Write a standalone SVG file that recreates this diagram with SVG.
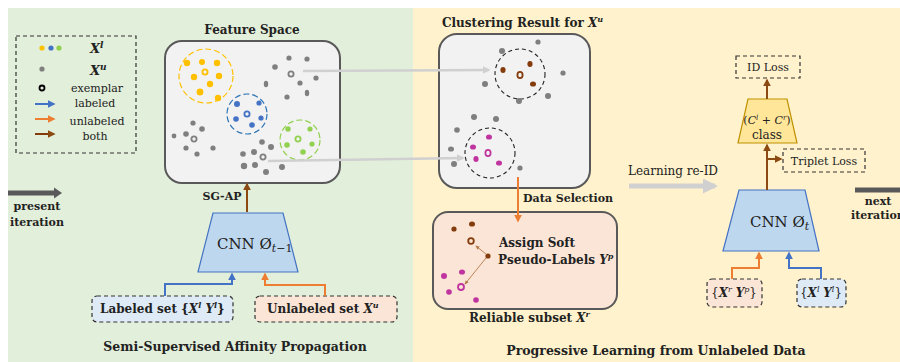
<svg xmlns="http://www.w3.org/2000/svg" width="900" height="362" viewBox="0 0 900 362">
<defs>
<style>
.t{font-family:"DejaVu Serif","Liberation Serif",serif;fill:#222}
.b{font-weight:bold}
.m{font-style:italic;font-weight:bold}
.g{fill:#7f7f7f}
.y{fill:#FFC000}
.bl{fill:#4472C4}
.gr{fill:#92D050}
.br{fill:#843C0C}
.mg{fill:#C0349F}
.box{fill:#F2F2F2;stroke:#595959;stroke-width:2}
.dash{stroke:#333;stroke-width:1.2;stroke-dasharray:4 3}
</style>
<marker id="aBr" viewBox="0 0 10 10" refX="8" refY="5" markerWidth="4" markerHeight="4" orient="auto"><path d="M0,0L10,5L0,10z" fill="#8B4A12"/></marker>
<marker id="aBl" viewBox="0 0 10 10" refX="8" refY="5" markerWidth="4" markerHeight="4" orient="auto"><path d="M0,0L10,5L0,10z" fill="#4472C4"/></marker>
<marker id="aOr" viewBox="0 0 10 10" refX="8" refY="5" markerWidth="4" markerHeight="4" orient="auto"><path d="M0,0L10,5L0,10z" fill="#ED7D31"/></marker>
<marker id="aGy" viewBox="0 0 10 10" refX="8" refY="5" markerWidth="3" markerHeight="3" orient="auto"><path d="M0,0L10,5L0,10z" fill="#D0D0D0"/></marker>
<marker id="aTh" viewBox="0 0 10 10" refX="8" refY="5" markerWidth="5" markerHeight="5" orient="auto"><path d="M0,1L10,5L0,9z" fill="#B27A48"/></marker>
</defs>

<!-- panels -->
<rect x="8" y="8" width="405" height="354" fill="#E2EFDA"/>
<rect x="413" y="8" width="487" height="354" fill="#FFF2CC"/>

<!-- legend -->
<g id="legend">
<rect x="16" y="36" width="120" height="117" fill="none" class="dash"/>
<circle cx="42" cy="48" r="2.6" class="y"/><circle cx="51" cy="48" r="2.6" class="bl"/><circle cx="59" cy="48" r="2.6" class="gr"/>
<text x="90" y="53" class="t m" font-size="13">X<tspan font-size="9" dy="-5">l</tspan></text>
<circle cx="42" cy="69" r="2.6" class="g"/>
<text x="90" y="75" class="t m" font-size="13">X<tspan font-size="9" dy="-5">u</tspan></text>
<circle cx="42" cy="88" r="2.5" fill="none" stroke="#000" stroke-width="1.8"/>
<text x="97" y="92" class="t" font-size="11" text-anchor="middle">exemplar</text>
<line x1="35" y1="104" x2="54" y2="104" stroke="#4472C4" stroke-width="2" marker-end="url(#aBl)"/>
<text x="95" y="107" class="t" font-size="11" text-anchor="middle">labeled</text>
<line x1="35" y1="119" x2="54" y2="119" stroke="#ED7D31" stroke-width="2" marker-end="url(#aOr)"/>
<text x="97" y="125" class="t" font-size="11" text-anchor="middle">unlabeled</text>
<line x1="35" y1="134" x2="54" y2="134" stroke="#843C0C" stroke-width="2" marker-end="url(#aBr)"/>
<text x="95" y="140" class="t" font-size="11" text-anchor="middle">both</text>
</g>

<!-- feature space -->
<g id="feature-space">
<text x="252" y="34" class="t b" font-size="12" text-anchor="middle">Feature Space</text>
<rect x="165" y="41" width="175" height="142" rx="17" class="box"/>
<circle cx="206" cy="76" r="27" fill="none" stroke="#FFC000" stroke-width="1.2" stroke-dasharray="6 3"/>
<g class="y">
<circle cx="187" cy="63" r="3.2"/><circle cx="202" cy="62" r="3"/><circle cx="217" cy="63" r="3.2"/>
<circle cx="194" cy="77" r="3.2"/><circle cx="219" cy="76" r="3.2"/><circle cx="210" cy="84" r="3.2"/>
<circle cx="200" cy="92" r="3.4"/><circle cx="218" cy="98" r="3.2"/>
</g>
<circle cx="205" cy="72" r="2.6" fill="none" stroke="#FFC000" stroke-width="1.8"/>
<circle cx="247" cy="114" r="20" fill="none" stroke="#2E75B6" stroke-width="1.2" stroke-dasharray="6 3"/>
<g class="bl">
<circle cx="237" cy="104" r="3"/><circle cx="259" cy="103" r="2.6"/><circle cx="236" cy="119" r="2.8"/><circle cx="261" cy="118" r="2.6"/><circle cx="252" cy="125" r="2.8"/>
</g>
<circle cx="247" cy="114" r="2.6" fill="none" stroke="#4472C4" stroke-width="1.8"/>
<circle cx="300" cy="140" r="20" fill="none" stroke="#92D050" stroke-width="1.2" stroke-dasharray="6 3"/>
<g class="gr">
<circle cx="288" cy="129" r="2.7"/><circle cx="310" cy="129" r="2.6"/><circle cx="287" cy="145" r="2.8"/><circle cx="312" cy="144" r="2.6"/><circle cx="303" cy="152" r="2.8"/>
</g>
<circle cx="298" cy="139" r="2.6" fill="none" stroke="#92D050" stroke-width="1.8"/>
<g class="g">
<circle cx="289" cy="58" r="2.6"/><circle cx="307" cy="59" r="2.6"/><circle cx="275" cy="67" r="2.8"/><circle cx="300" cy="83" r="2.6"/><circle cx="316" cy="78" r="2.6"/>
<ellipse cx="266" cy="84" rx="2.2" ry="3.2"/><ellipse cx="307" cy="93" rx="2.2" ry="3.2"/><circle cx="287" cy="97" r="2.6"/>
<circle cx="193" cy="123" r="2.6"/><circle cx="202" cy="129" r="2.8"/><circle cx="186" cy="134" r="2.8"/><circle cx="174" cy="136" r="2.4"/>
<circle cx="186" cy="148" r="2.6"/><circle cx="197" cy="154" r="2.6"/><circle cx="213" cy="148" r="2.6"/>
<circle cx="262" cy="142" r="2.8"/><circle cx="271" cy="147" r="3"/><circle cx="254" cy="152" r="3"/><circle cx="243" cy="154" r="2.8"/>
<circle cx="244" cy="166" r="3.2"/><circle cx="255" cy="165" r="3"/><circle cx="266" cy="172" r="3"/><circle cx="282" cy="167" r="3"/>
</g>
<g fill="none" stroke="#7f7f7f" stroke-width="1.8">
<circle cx="291" cy="74" r="2.6"/><circle cx="194" cy="139" r="2.6"/><circle cx="263" cy="157" r="2.6"/>
</g>
</g>

<!-- clustering result -->
<g id="clustering-result">
<text x="442" y="27" class="t b" font-size="12">Clustering Result for <tspan class="m">X</tspan><tspan font-size="8" font-style="italic" dy="-5">u</tspan></text>
<rect x="439" y="34" width="151" height="154" rx="18" class="box"/>
<circle cx="520" cy="74" r="25" fill="none" stroke="#222" stroke-width="1.1" stroke-dasharray="4 3"/>
<circle cx="490" cy="153" r="25" fill="none" stroke="#222" stroke-width="1.1" stroke-dasharray="4 3"/>
<g class="br">
<ellipse cx="503" cy="70" rx="2.6" ry="3"/><ellipse cx="530" cy="64" rx="2.6" ry="3"/><ellipse cx="533" cy="84" rx="3" ry="2.6"/>
</g>
<ellipse cx="520" cy="75" rx="2.6" ry="3.2" fill="none" stroke="#843C0C" stroke-width="1.8"/>
<g class="mg">
<ellipse cx="489" cy="137" rx="3" ry="2.6"/><ellipse cx="473" cy="147" rx="3" ry="2.6"/><ellipse cx="476" cy="159" rx="2.6" ry="3"/><ellipse cx="499" cy="163" rx="3" ry="2.6"/>
</g>
<ellipse cx="488" cy="153" rx="2.6" ry="3.2" fill="none" stroke="#C0349F" stroke-width="1.8"/>
<g class="g">
<circle cx="502" cy="51" r="3"/><circle cx="538" cy="42" r="2.6"/><circle cx="563" cy="73" r="2.6"/><circle cx="485" cy="84" r="3"/>
<circle cx="519" cy="101" r="3"/><circle cx="548" cy="96" r="3"/>
<circle cx="474" cy="117" r="3"/><circle cx="496" cy="119" r="3"/><circle cx="457" cy="130" r="2.8"/><ellipse cx="451" cy="149" rx="3" ry="2.6"/>
<circle cx="454" cy="164" r="3"/><circle cx="520" cy="168" r="2.6"/>
</g>
</g>

<!-- reliable subset -->
<g id="reliable-subset">
<rect x="433" y="212" width="184" height="97" rx="15" fill="#FBE5D6" stroke="#595959" stroke-width="2"/>
<g class="br">
<circle cx="454" cy="229" r="2.6"/><ellipse cx="472" cy="224" rx="3" ry="2.6"/><circle cx="488" cy="256" r="2.6"/>
</g>
<circle cx="471" cy="241" r="2.8" fill="none" stroke="#843C0C" stroke-width="1.8"/>
<g class="mg">
<circle cx="444" cy="276" r="3"/><ellipse cx="462" cy="272" rx="3" ry="2.6"/><circle cx="449" cy="292" r="2.8"/><circle cx="476" cy="300" r="2.8"/>
</g>
<circle cx="461" cy="287" r="3" fill="none" stroke="#C0349F" stroke-width="1.8"/>
<line x1="486" y1="254" x2="476" y2="246" stroke="#B27A48" stroke-width="0.9" marker-end="url(#aTh)"/>
<line x1="486" y1="258" x2="465" y2="284" stroke="#B27A48" stroke-width="0.9" marker-end="url(#aTh)"/>
<text x="499" y="247" class="t b" font-size="12">Assign Soft</text>
<text x="498" y="264" class="t b" font-size="12">Pseudo-Labels <tspan class="m">Y</tspan><tspan font-size="8" font-style="italic" dy="-5">p</tspan></text>
<text x="469" y="322" class="t b" font-size="12">Reliable subset <tspan class="m">X</tspan><tspan font-size="8" font-style="italic" dy="-5">r</tspan></text>
</g>

<!-- CNN t-1 -->
<g id="cnn-prev">
<polygon points="213,213 283,213 298,272 198,272" fill="#BDD7EE" stroke="#4472C4" stroke-width="1.2"/>
<text x="217" y="249" class="t" font-size="15">CNN Ø<tspan font-size="11" font-style="italic" dy="3">t</tspan><tspan font-size="11" dy="0">−1</tspan></text>
</g>

<g id="labeled-set">
<rect x="92" y="296" width="141" height="26" rx="5" fill="#DEEBF7" class="dash"/>
<text x="100" y="313" class="t b" font-size="12">Labeled set {<tspan class="m">X</tspan><tspan font-size="8" dy="-5" font-style="italic">l</tspan><tspan dy="5"> </tspan><tspan class="m">Y</tspan><tspan font-size="8" dy="-5" font-style="italic">l</tspan><tspan dy="5">}</tspan></text>
</g>
<g id="unlabeled-set">
<rect x="255" y="296" width="142" height="26" rx="5" fill="#FBE5D6" class="dash"/>
<text x="267" y="313" class="t b" font-size="12">Unlabeled set <tspan class="m">X</tspan><tspan font-size="8" dy="-5" font-style="italic">u</tspan></text>
</g>

<!-- right side nodes -->
<g id="id-loss">
<rect x="736" y="56" width="64" height="22" fill="none" class="dash"/>
<text x="768" y="71" class="t" font-size="11" text-anchor="middle">ID Loss</text>
</g>
<g id="classifier">
<polygon points="748,99 787,99 797,143 738,143" fill="#FFE699" stroke="#BF9000" stroke-width="1.2"/>
<text x="767" y="124" class="t" font-size="11" text-anchor="middle"><tspan>(</tspan><tspan font-style="italic">C</tspan><tspan font-size="7" dy="-4" font-style="italic">l</tspan><tspan dy="4"> + </tspan><tspan font-style="italic">C</tspan><tspan font-size="7" dy="-4" font-style="italic">r</tspan><tspan dy="4">)</tspan></text>
<text x="767" y="139" class="t" font-size="12" text-anchor="middle">class</text>
</g>
<g id="triplet-loss">
<rect x="783" y="149" width="82" height="23" fill="none" class="dash"/>
<text x="824" y="165" class="t" font-size="11" text-anchor="middle">Triplet Loss</text>
</g>
<g id="cnn-t">
<polygon points="739,190 805,190 819,251 723,251" fill="#BDD7EE" stroke="#4472C4" stroke-width="1.2"/>
<text x="750" y="227" class="t" font-size="15">CNN Ø<tspan font-size="11" font-style="italic" dy="3">t</tspan></text>
</g>
<g id="xr-yp">
<rect x="707" y="279" width="55" height="28" rx="5" fill="#FBE5D6" class="dash"/>
<text x="734" y="297" class="t" font-size="12" text-anchor="middle">{<tspan class="m">X</tspan><tspan font-size="8" dy="-5" font-style="italic">r</tspan><tspan dy="5"> </tspan><tspan class="m">Y</tspan><tspan font-size="8" dy="-5" font-style="italic">p</tspan><tspan dy="5">}</tspan></text>
</g>
<g id="xl-yl">
<rect x="797" y="279" width="49" height="28" rx="5" fill="#DEEBF7" class="dash"/>
<text x="821" y="297" class="t" font-size="12" text-anchor="middle">{<tspan class="m">X</tspan><tspan font-size="8" dy="-5" font-style="italic">l</tspan><tspan dy="5"> </tspan><tspan class="m">Y</tspan><tspan font-size="8" dy="-5" font-style="italic">l</tspan><tspan dy="5">}</tspan></text>
</g>

<!-- connectors -->
<g id="connectors" fill="none">
<line x1="303" y1="71" x2="489" y2="70" stroke="#D0D0D0" stroke-width="2.5" marker-end="url(#aGy)"/>
<line x1="268" y1="161" x2="463" y2="158" stroke="#D0D0D0" stroke-width="2.5" marker-end="url(#aGy)"/>
<line x1="247" y1="212" x2="247" y2="184" stroke="#8B4A12" stroke-width="2" marker-end="url(#aBr)"/>
<polyline points="165,296 165,284 232,284 232,274" stroke="#4472C4" stroke-width="2" marker-end="url(#aBl)"/>
<polyline points="325,296 325,285 265,285 265,274" stroke="#ED7D31" stroke-width="2" marker-end="url(#aOr)"/>
<line x1="518" y1="177" x2="518" y2="221" stroke="#ED7D31" stroke-width="2" marker-end="url(#aOr)"/>
<line x1="629" y1="186" x2="715" y2="186" stroke="#D0D0D0" stroke-width="5" marker-end="url(#aGy)"/>
<line x1="767" y1="99" x2="767" y2="80" stroke="#8B4A12" stroke-width="2" marker-end="url(#aBr)"/>
<line x1="767" y1="190" x2="767" y2="145" stroke="#8B4A12" stroke-width="2" marker-end="url(#aBr)"/>
<line x1="767" y1="159" x2="781" y2="159" stroke="#8B4A12" stroke-width="2" marker-end="url(#aBr)"/>
<polyline points="732,279 732,268 759,268 759,253" stroke="#ED7D31" stroke-width="2" marker-end="url(#aOr)"/>
<polyline points="821,279 821,268 789,268 789,253" stroke="#4472C4" stroke-width="2" marker-end="url(#aBl)"/>
<line x1="8" y1="193" x2="54" y2="193" stroke="#595959" stroke-width="5"/>
<polygon points="54,187.5 62,193 54,198.5" fill="#595959" stroke="none"/>
<line x1="855" y1="190" x2="900" y2="190" stroke="#595959" stroke-width="5"/>
</g>

<!-- labels -->
<g id="labels">
<text x="222" y="200" class="t b" font-size="11" text-anchor="middle">SG-AP</text>
<text x="523" y="202" class="t b" font-size="11">Data Selection</text>
<text x="673" y="175" class="t" font-size="12" text-anchor="middle">Learning re-ID</text>
<text x="37" y="210" class="t b" font-size="11" text-anchor="middle">present</text>
<text x="37" y="226" class="t b" font-size="11" text-anchor="middle">iteration</text>
<text x="878" y="205" class="t b" font-size="11" text-anchor="middle">next</text>
<text x="851" y="219" class="t b" font-size="11">iteration</text>
<text x="235" y="351" class="t b" font-size="12.5" text-anchor="middle">Semi-Supervised Affinity Propagation</text>
<text x="656" y="355" class="t b" font-size="12.5" text-anchor="middle">Progressive Learning from Unlabeled Data</text>
</g>
</svg>
